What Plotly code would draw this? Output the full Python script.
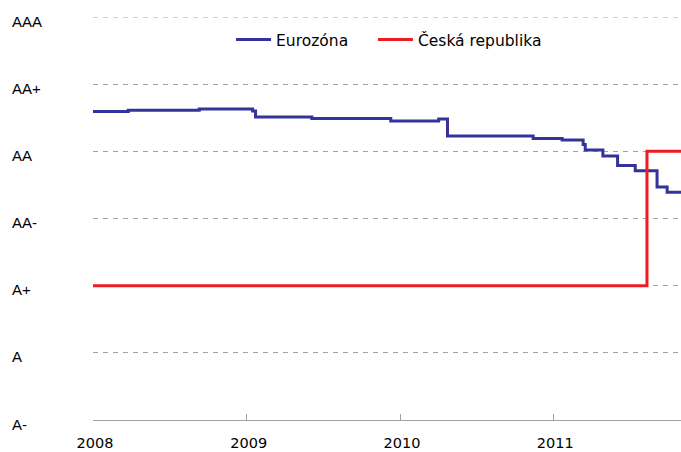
import plotly.graph_objects as go

# Rating scale (bottom to top)
rating_labels = ["A-", "A", "A+", "AA-", "AA", "AA+", "AAA"]
rating_values = [0, 1, 2, 3, 4, 5, 6]

# Eurozone average rating (step series)
euro_dates = ["2008-01-01", "2008-03-25", "2008-09-10", "2009-01-15", "2009-01-22",
              "2009-06-05", "2009-12-10", "2010-04-03", "2010-04-24", "2010-11-14",
              "2011-01-22", "2011-03-13", "2011-03-18", "2011-04-29", "2011-06-03",
              "2011-07-15", "2011-09-05", "2011-09-29", "2011-11-05"]
euro_values = [4.594, 4.61, 4.63, 4.60, 4.51,
               4.49, 4.45, 4.48, 4.23, 4.19,
               4.17, 4.10, 4.02, 3.93, 3.79,
               3.71, 3.47, 3.39, 3.39]

# Czech Republic rating
cz_dates = ["2008-01-01", "2011-08-12", "2011-11-05"]
cz_values = [2, 4, 4]

series_names = ["Eurozóna", "Česká republika"]

fig = go.Figure()
fig.add_trace(go.Scatter(x=euro_dates, y=euro_values, mode="lines", name=series_names[0],
                         line=dict(color="#333399", width=3, shape="hv"), legend="legend"))
fig.add_trace(go.Scatter(x=cz_dates, y=cz_values, mode="lines", name=series_names[1],
                         line=dict(color="#ED1C24", width=3, shape="hv"), legend="legend2"))

for lab, val in zip(rating_labels, rating_values):
    fig.add_annotation(text=lab, x=-0.1412, xref="paper", y=val, yref="y",
                       xanchor="left", yanchor="middle", yshift=-4, showarrow=False,
                       font=dict(family="Liberation Sans, Arial", size=15, color="#000000"))

# top gridline (AAA) sits on the range edge, draw it explicitly
fig.add_shape(type="line", xref="paper", x0=0, x1=1, yref="y",
              y0=rating_values[-1], y1=rating_values[-1],
              line=dict(color="#a0a0a0", width=1, dash="5px,5px"), layer="below")

legend_font = dict(family="DejaVu Sans, Verdana", size=15.5, color="#000000")

fig.update_layout(
    width=681, height=452,
    margin=dict(l=93, r=0, t=17, b=32),
    paper_bgcolor="white", plot_bgcolor="white",
    showlegend=True,
    legend=dict(orientation="h", x=0.2348, xanchor="left", y=0.943, yanchor="middle",
                font=legend_font, bgcolor="rgba(0,0,0,0)", itemwidth=35),
    legend2=dict(orientation="h", x=0.4761, xanchor="left", y=0.943, yanchor="middle",
                 font=legend_font, bgcolor="rgba(0,0,0,0)", itemwidth=35),
    xaxis=dict(range=["2008-01-01", "2011-11-01"], dtick="M12", tick0="2008-01-01",
               tickformat="%Y", showgrid=False, zeroline=False,
               showline=True, linecolor="#a0a0a0", linewidth=1,
               ticks="inside", ticklen=6, tickcolor="#a0a0a0",
               ticklabelstandoff=10, ticklabelshift=2,
               tickfont=dict(family="DejaVu Sans, Verdana", size=14.5, color="#000000")),
    yaxis=dict(range=[0, 6], tickvals=rating_values[1:], showticklabels=False,
               showgrid=True, gridcolor="#a0a0a0", gridwidth=1, griddash="5px,5px",
               zeroline=False, showline=False, ticks=""),
)

fig.write_html("out.html", config={"displayModeBar": False},
               post_script="document.body.style.margin='0';"
                           "document.documentElement.style.overflow='hidden';")
